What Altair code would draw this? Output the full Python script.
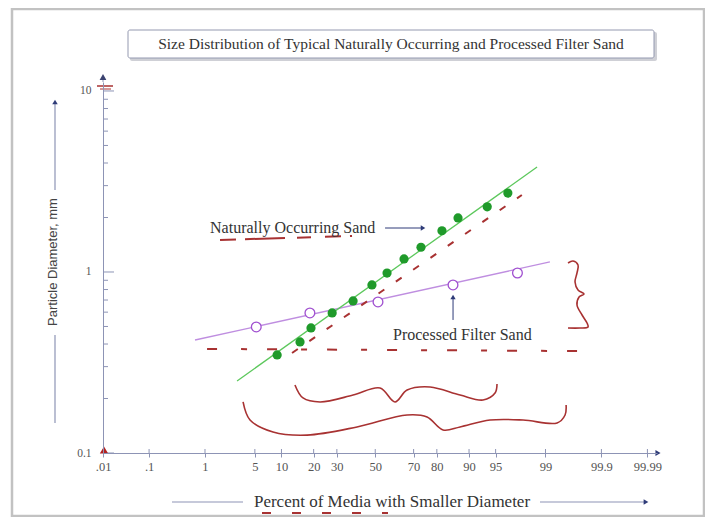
import altair as alt
import pandas as pd
from statistics import NormalDist

_nd = NormalDist()


def probit(pct):
    return _nd.inv_cdf(pct / 100.0)


# ---------------- data ----------------
natural_pct = [9.0, 15.2, 19.0, 27.8, 38.1, 48.2, 56.4, 65.3, 73.4, 81.9, 87.1, 93.7, 96.5]
natural_mm = [0.348, 0.411, 0.491, 0.594, 0.692, 0.848, 0.987, 1.18, 1.37, 1.69, 1.99, 2.29, 2.73]
processed_pct = [5.2, 18.6, 51.5, 85.6, 97.4]
processed_mm = [0.497, 0.594, 0.683, 0.848, 0.987]

natural_fit_pct = [2.95, 98.65]
natural_fit_mm = [0.250, 3.80]
processed_fit_pct = [0.69, 99.15]
processed_fit_mm = [0.421, 1.136]

x_tick_pct = [0.01, 0.1, 1, 5, 10, 20, 30, 50, 70, 80, 90, 95, 99, 99.9, 99.99]
x_tick_labels = [".01", ".1", "1", "5", "10", "20", "30", "50", "70", "80", "90", "95", "99", "99.9", "99.99"]
y_tick_mm = [0.1, 1, 10]
y_tick_labels = ["0.1", "1", "10"]
y_minor_mm = [0.2, 0.3, 0.4, 0.5, 0.6, 0.7, 0.8, 0.9, 2, 3, 4, 5, 6, 7, 8, 9]

title_text = "Size Distribution of Typical Naturally Occurring and Processed Filter Sand"
y_title_text = "Particle Diameter, mm"
x_title_text = "Percent of Media with Smaller Diameter"
label_natural = "Naturally Occurring Sand"
label_processed = "Processed Filter Sand"

# hand-drawn red markup (x in probit units, y in log10 mm)
brace_small_z = [-1.097, -0.987, -0.754, -0.303, 0.066, 0.270, 0.435, 0.749, 1.159, 1.473, 1.637, 1.664]
brace_small_logd = [-0.624, -0.696, -0.718, -0.680, -0.641, -0.718, -0.652, -0.635, -0.680, -0.707, -0.669, -0.619]
brace_big_z = [-1.806, -1.711, -1.397, -0.932, -0.249, 0.435, 0.708, 0.927, 1.159, 1.569, 2.020, 2.485, 2.594, 2.608]
brace_big_logd = [-0.718, -0.818, -0.884, -0.901, -0.856, -0.790, -0.801, -0.873, -0.856, -0.818, -0.818, -0.834, -0.790, -0.735]
brace_right_z = [2.634, 2.703, 2.771, 2.757, 2.730, 2.771, 2.853, 2.785, 2.757, 2.826, 2.894, 2.908, 2.798, 2.634]
brace_right_logd = [0.0497, 0.0608, 0.0387, -0.0055, -0.0552, -0.0994, -0.1215, -0.1381, -0.1823, -0.2376, -0.2818, -0.3039, -0.3094, -0.3094]
dash_natural_label_z = [-2.121, -0.317]
dash_natural_label_logd = [0.177, 0.199]
dash_processed_label_z = [-2.298, 2.839]
dash_processed_label_logd = [-0.425, -0.437]
dash_along_natural_z = [-1.137, 2.003]
dash_along_natural_logd = [-0.4475, 0.4254]

label_natural_pos = (-2.257, 0.243)
arrow_natural_z = [0.134, 0.653]
arrow_natural_logd = [0.243, 0.243]
label_processed_pos = (0.243, -0.348)
arrow_processed_z = [1.063, 1.063]
arrow_processed_logd = [-0.265, -0.138]

# ---------------- styling ----------------
SERIF = "Liberation Serif"
SANS = "Liberation Sans"
AXIS = "#8d94b5"
NAVY = "#2e3b78"
RED = "#a83232"
W, H = 554, 371
Z_DOMAIN = [-3.72, 3.85]
D_DOMAIN = [0.1, 11.21]

tick_z = [probit(p) for p in x_tick_pct]
parts = []
for i in range(len(tick_z) - 1):
    thr = (tick_z[i] + tick_z[i + 1]) / 2
    parts.append(f"datum.value < {thr:.4f} ? '{x_tick_labels[i]}' : ")
x_label_expr = "".join(parts) + f"'{x_tick_labels[-1]}'"

yparts = []
for i in range(len(y_tick_mm) - 1):
    thr = (y_tick_mm[i] * y_tick_mm[i + 1]) ** 0.5
    yparts.append(f"datum.value < {thr:.4f} ? '{y_tick_labels[i]}' : ")
y_label_expr = "".join(yparts) + f"'{y_tick_labels[-1]}'"


def X():
    return alt.X(
        "z:Q",
        scale=alt.Scale(domain=Z_DOMAIN, nice=False, zero=False),
        axis=alt.Axis(values=tick_z, labelExpr=x_label_expr, title=None, grid=False,
                      tickSize=4, tickColor=AXIS, domainColor=AXIS, labelFont=SERIF,
                      labelFontSize=12.5, labelColor="#555", labelPadding=3,
                      labelFlush=False, labelOverlap=False, zindex=1),
    )


def Y():
    return alt.Y(
        "d:Q",
        scale=alt.Scale(type="log", domain=D_DOMAIN, nice=False),
        axis=alt.Axis(values=y_tick_mm, labelExpr=y_label_expr, title=None, grid=False,
                      ticks=False, domainColor=AXIS, labelFont=SERIF, labelFontSize=11.5,
                      labelColor="#555", labelPadding=12, labelFlush=False,
                      labelOverlap=False, zindex=1),
    )


def zd(zs, logds):
    return pd.DataFrame({"z": zs, "d": [10 ** v for v in logds], "i": list(range(len(zs)))})


one = pd.DataFrame({"a": [0]})

layers = []

# outer frame
layers.append(alt.Chart(one).mark_rect(fill="transparent", stroke="#c2c2c2", strokeWidth=2.5).encode(
    x=alt.value(-91), x2=alt.value(601), y=alt.value(-73), y2=alt.value(434)))

# title box with shadow
layers.append(alt.Chart(one).mark_rect(fill="#cfd0d6", cornerRadius=2).encode(
    x=alt.value(27), x2=alt.value(554), y=alt.value(-50), y2=alt.value(-21)))
layers.append(alt.Chart(one).mark_rect(fill="white", stroke="#9499b0", strokeWidth=1, cornerRadius=2).encode(
    x=alt.value(25), x2=alt.value(551), y=alt.value(-52), y2=alt.value(-24)))
layers.append(alt.Chart(pd.DataFrame({"t": [title_text]})).mark_text(
    font=SERIF, fontSize=15.5, color="#333", align="center", baseline="middle").encode(
    x=alt.value(288), y=alt.value(-38), text="t:N"))

# y title with lines and arrow
layers.append(alt.Chart(pd.DataFrame({"t": [y_title_text]})).mark_text(
    font=SANS, fontSize=13, color="#444", angle=270, align="center", baseline="middle").encode(
    x=alt.value(-50), y=alt.value(180), text="t:N"))
layers.append(alt.Chart(one).mark_rule(color=AXIS, strokeWidth=1.2).encode(
    x=alt.value(-48), y=alt.value(21), y2=alt.value(108)))
layers.append(alt.Chart(one).mark_rule(color=AXIS, strokeWidth=1.2).encode(
    x=alt.value(-48), y=alt.value(253), y2=alt.value(341)))
layers.append(alt.Chart(one).mark_point(shape="triangle-up", filled=True, size=30, color=NAVY, opacity=1).encode(
    x=alt.value(-48), y=alt.value(20)))

# x title with lines and arrow
layers.append(alt.Chart(pd.DataFrame({"t": [x_title_text]})).mark_text(
    font=SERIF, fontSize=17, color="#333", align="center", baseline="middle").encode(
    x=alt.value(289), y=alt.value(420), text="t:N"))
layers.append(alt.Chart(one).mark_rule(color=AXIS, strokeWidth=1.2).encode(
    x=alt.value(69), x2=alt.value(140), y=alt.value(420)))
layers.append(alt.Chart(one).mark_rule(color=AXIS, strokeWidth=1.2).encode(
    x=alt.value(437), x2=alt.value(541), y=alt.value(420)))
layers.append(alt.Chart(one).mark_point(shape="triangle-right", filled=True, size=30, color=NAVY, opacity=1).encode(
    x=alt.value(543), y=alt.value(420)))
layers.append(alt.Chart(one).mark_rule(color=RED, strokeWidth=2, strokeDash=[9, 21]).encode(
    x=alt.value(159), x2=alt.value(285), y=alt.value(431)))

# axis arrows and red axis marks
layers.append(alt.Chart(one).mark_rule(color=AXIS, strokeWidth=1).encode(
    x=alt.value(0), y=alt.value(-4), y2=alt.value(0)))
layers.append(alt.Chart(one).mark_point(shape="triangle-up", filled=True, size=45, color="#3b4270", opacity=1).encode(
    x=alt.value(0), y=alt.value(-5)))
layers.append(alt.Chart(one).mark_point(shape="triangle-right", filled=True, size=35, color=NAVY, opacity=1).encode(
    x=alt.value(555), y=alt.value(371)))
layers.append(alt.Chart(one).mark_rule(color=RED, strokeWidth=1.5).encode(
    x=alt.value(-6), x2=alt.value(10), y=alt.value(4)))
layers.append(alt.Chart(one).mark_rule(color=RED, strokeWidth=1).encode(
    x=alt.value(-3), x2=alt.value(8), y=alt.value(7)))

# inward y ticks
layers.append(alt.Chart(pd.DataFrame({"d": y_minor_mm})).mark_rule(color=AXIS, strokeWidth=1).encode(
    x=alt.value(0), x2=alt.value(5), y=Y()))
layers.append(alt.Chart(pd.DataFrame({"d": y_tick_mm})).mark_rule(color=AXIS, strokeWidth=1).encode(
    x=alt.value(0), x2=alt.value(11), y=Y()))
# upward half of the x ticks
layers.append(alt.Chart(pd.DataFrame({"z": tick_z})).mark_rule(color=AXIS, strokeWidth=1).encode(
    x=X(), y=alt.value(367), y2=alt.value(371)))

# fitted lines
nat_fit = pd.DataFrame({"z": [probit(p) for p in natural_fit_pct], "d": natural_fit_mm})
pro_fit = pd.DataFrame({"z": [probit(p) for p in processed_fit_pct], "d": processed_fit_mm})
layers.append(alt.Chart(pro_fit).mark_line(color="#bf8ee0", strokeWidth=1.3).encode(x=X(), y=Y()))
layers.append(alt.Chart(nat_fit).mark_line(color="#5cc85c", strokeWidth=1.3).encode(x=X(), y=Y()))

# red markup dashes
layers.append(alt.Chart(zd(dash_along_natural_z, dash_along_natural_logd)).mark_line(
    color=RED, strokeWidth=2, strokeDash=[7, 14]).encode(x=X(), y=Y()))
layers.append(alt.Chart(zd(dash_natural_label_z, dash_natural_label_logd)).mark_line(
    color=RED, strokeWidth=2, strokeDash=[16, 9, 40, 12, 14, 14]).encode(x=X(), y=Y()))
layers.append(alt.Chart(zd(dash_processed_label_z, dash_processed_label_logd)).mark_line(
    color=RED, strokeWidth=2, strokeDash=[10, 24, 6, 20]).encode(x=X(), y=Y()))

# braces
for zs, ls in [(brace_small_z, brace_small_logd), (brace_big_z, brace_big_logd), (brace_right_z, brace_right_logd)]:
    layers.append(alt.Chart(zd(zs, ls)).mark_line(
        color=RED, strokeWidth=1.6, interpolate="catmull-rom").encode(
        x=X(), y=Y(), order=alt.Order("i:Q")))

# data points
nat_df = pd.DataFrame({"z": [probit(p) for p in natural_pct], "d": natural_mm})
pro_df = pd.DataFrame({"z": [probit(p) for p in processed_pct], "d": processed_mm})
layers.append(alt.Chart(pro_df).mark_point(shape="circle", filled=False, size=95, color="#a050d0",
                                            fill="white", fillOpacity=1, strokeWidth=1.3, opacity=1).encode(x=X(), y=Y()))
layers.append(alt.Chart(nat_df).mark_point(shape="circle", filled=True, size=85, color="#1f9a2a", opacity=1).encode(
    x=X(), y=Y()))

# annotation labels and arrows
layers.append(alt.Chart(pd.DataFrame({"z": [label_natural_pos[0]], "d": [10 ** label_natural_pos[1]], "t": [label_natural]}))
              .mark_text(font=SERIF, fontSize=16, color="#333", align="left", baseline="middle")
              .encode(x=X(), y=Y(), text="t:N"))
layers.append(alt.Chart(pd.DataFrame({"z": [label_processed_pos[0]], "d": [10 ** label_processed_pos[1]], "t": [label_processed]}))
              .mark_text(font=SERIF, fontSize=16, color="#333", align="left", baseline="middle")
              .encode(x=X(), y=Y(), text="t:N"))
layers.append(alt.Chart(zd(arrow_natural_z, arrow_natural_logd)).mark_line(color=NAVY, strokeWidth=1).encode(x=X(), y=Y()))
layers.append(alt.Chart(zd(arrow_natural_z[-1:], arrow_natural_logd[-1:])).mark_point(
    shape="triangle-right", filled=True, size=28, color=NAVY, opacity=1).encode(x=X(), y=Y()))
layers.append(alt.Chart(zd(arrow_processed_z, arrow_processed_logd)).mark_line(color=NAVY, strokeWidth=1).encode(x=X(), y=Y()))
layers.append(alt.Chart(zd(arrow_processed_z[-1:], arrow_processed_logd[-1:])).mark_point(
    shape="triangle-up", filled=True, size=28, color=NAVY, opacity=1).encode(x=X(), y=Y()))

# red mark at the origin (drawn last so it sits over the axes)
layers.append(alt.Chart(one).mark_point(shape="triangle-up", filled=True, size=70, color="#b22222", opacity=1).encode(
    x=alt.value(1), y=alt.value(368)))

chart = alt.layer(*layers).properties(
    width=W, height=H,
    autosize=alt.AutoSizeParams(type="none"),
    padding={"left": 95, "top": 74, "right": 48, "bottom": 64},
).configure_view(stroke=None)

chart.save("out.html", embed_options={"renderer": "svg", "actions": False})
